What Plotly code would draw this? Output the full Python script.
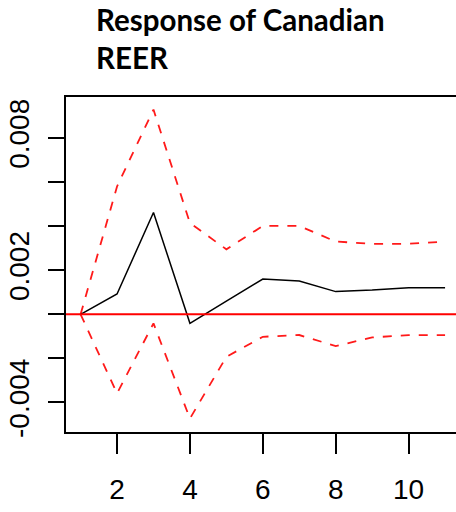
import plotly.graph_objects as go

# Impulse-response horizon and estimates
horizon = list(range(1, 12))
response = [0.0, 0.00092, 0.00462, -0.00041, 0.0006, 0.0016, 0.00151, 0.00103, 0.0011, 0.00121, 0.00121]
upper_band = [0.0, 0.0058, 0.00929, 0.00414, 0.00295, 0.00401, 0.00401, 0.0033, 0.0032, 0.0032, 0.0033]
lower_band = [0.0, -0.00359, -0.00041, -0.00473, -0.00193, -0.00102, -0.00094, -0.00144, -0.00105, -0.00094, -0.00094]

y_tick_values = [-0.004, -0.002, 0.0, 0.002, 0.004, 0.006, 0.008]
y_tick_labels = ["-0.004", "", "", "0.002", "", "", "0.008"]
x_tick_values = [2, 4, 6, 8, 10]
x_tick_labels = ["2", "4", "6", "8", "10"]

title_text = "Response of Canadian<br>REER"

fig = go.Figure()

band_style = dict(color="#ff1a1a", width=1.8, dash="dash")
fig.add_trace(go.Scatter(x=horizon, y=upper_band, mode="lines", line=band_style, showlegend=False))
fig.add_trace(go.Scatter(x=horizon, y=lower_band, mode="lines", line=band_style, showlegend=False))
fig.add_trace(go.Scatter(x=horizon, y=response, mode="lines",
                         line=dict(color="black", width=1.5), showlegend=False))

# zero reference line
fig.add_shape(type="line", xref="paper", yref="y", x0=0, x1=1, y0=0, y1=0,
              line=dict(color="#ff0000", width=2))

tick_font = dict(family="Liberation Sans Narrow, Arial Narrow, Liberation Sans, sans-serif",
                 size=28, color="black")

fig.update_layout(
    width=456, height=512,
    margin=dict(l=66, r=0, t=97, b=80),
    plot_bgcolor="white", paper_bgcolor="white",
    annotations=[dict(
        text=title_text, xref="paper", yref="paper", x=0.072, y=1.29,
        xanchor="left", yanchor="top", align="left", showarrow=False,
        font=dict(family="Lato, Open Sans, sans-serif", size=29.5, color="black", weight="bold"),
    )],
)

fig.update_xaxes(
    range=[0.6, 11.3], tickvals=x_tick_values, ticktext=x_tick_labels,
    ticks="outside", ticklen=20, tickwidth=1.5, tickcolor="black",
    showline=True, linecolor="black", linewidth=1.5, mirror=True,
    showgrid=False, zeroline=False, tickfont=tick_font, ticklabelstandoff=12,
)
fig.update_yaxes(
    range=[-0.00534, 0.00986], tickvals=y_tick_values, ticktext=y_tick_labels,
    ticks="outside", ticklen=16, tickwidth=1.5, tickcolor="black", tickangle=-90,
    showline=True, linecolor="black", linewidth=1.5,
    showgrid=False, zeroline=False, tickfont=tick_font, ticklabelstandoff=8,
)

fig.write_html("out.html")
